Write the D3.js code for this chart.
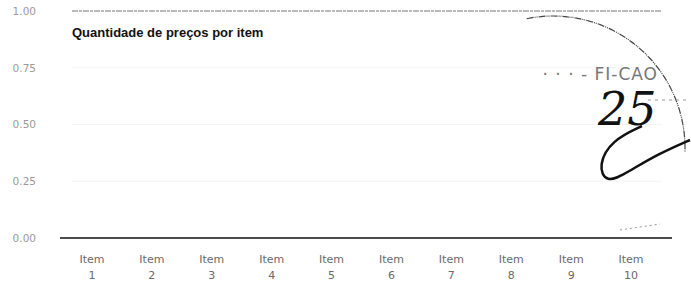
<!DOCTYPE html>
<html>
<head>
<meta charset="utf-8">
<script src="https://cdn.jsdelivr.net/npm/d3@7"></script>
<style>
  body { margin: 0; background: #fff; }
  svg { display: block; }
</style>
</head>
<body>
<svg id="chart" width="691" height="289"></svg>
<script>
const categories = ["Item 1","Item 2","Item 3","Item 4","Item 5","Item 6","Item 7","Item 8","Item 9","Item 10"];
const values = [0,0,0,0,0,0,0,0,0,0];
const yTicks = [0, 0.25, 0.5, 0.75, 1];
const title = "Quantidade de preços por item";

const svg = d3.select("#chart");
const margin = {left: 60, right: 29, top: 11, bottom: 51};
const W = 691, H = 289;

const x = d3.scaleBand().domain(categories).range([62, W - 30]).paddingInner(0.2).paddingOuter(0.1);
const y = d3.scaleLinear().domain([0, 1]).range([H - margin.bottom, margin.top]);

// gridlines
svg.append("g").selectAll("line").data(yTicks.filter(d => d > 0)).join("line")
  .attr("x1", margin.left + 12).attr("x2", W - margin.right)
  .attr("y1", d => y(d)).attr("y2", d => y(d))
  .attr("stroke", d => d === 1 ? "#777" : "#f4f4f4")
  .attr("stroke-width", 1)
  .attr("stroke-dasharray", d => d === 1 ? "6,1,3,1" : null);

// y axis labels
const yAxis = d3.axisLeft(y).tickValues(yTicks).tickFormat(d3.format(".2f")).tickSize(0).tickPadding(0);
const gy = svg.append("g").attr("transform", "translate(36,0)").call(yAxis);
gy.select(".domain").remove();
gy.selectAll("text").attr("fill", "#9a9a9a").attr("font-family", "DejaVu Sans, sans-serif").attr("font-size", 10.5);

// bars (all zero)
svg.append("g").selectAll("rect").data(values).join("rect")
  .attr("x", (d, i) => x(categories[i]))
  .attr("width", x.bandwidth())
  .attr("y", d => y(d))
  .attr("height", d => y(0) - y(d))
  .attr("fill", "#333");

// baseline
svg.append("line")
  .attr("x1", margin.left).attr("x2", W - margin.right + 10)
  .attr("y1", y(0)).attr("y2", y(0))
  .attr("stroke", "#111").attr("stroke-width", 1.3);

// x axis labels
const xAxis = d3.axisBottom(x).tickSize(0).tickPadding(0);
const gx = svg.append("g").attr("transform", `translate(0,${y(0)})`).call(xAxis);
gx.select(".domain").remove();
gx.selectAll("text").each(function(d) {
  const parts = d.split(" ");
  const t = d3.select(this).text(null)
    .attr("fill", "#6a6a6a").attr("font-family", "DejaVu Sans, sans-serif").attr("font-size", 11)
    .attr("dy", null).attr("y", 0);
  t.append("tspan").attr("x", 0).attr("y", 25).text(parts[0]);
  t.append("tspan").attr("x", 0).attr("y", 41).text(parts[1]);
});

// title
svg.append("text").attr("x", 72).attr("y", 37)
  .attr("font-family", "Liberation Sans, Arial, sans-serif")
  .attr("font-weight", "bold").attr("font-size", 13).attr("fill", "#111")
  .text(title);

// scanned stamp / signature overlay (decorative)
const stamp = svg.append("g");
const arc = d3.arc().innerRadius(132).outerRadius(132).startAngle(-0.2).endAngle(1.6);
stamp.append("path").attr("d", arc()).attr("transform", "translate(553,148)")
  .attr("fill", "none").attr("stroke", "#444").attr("stroke-width", 1.2).attr("stroke-dasharray", "5,3,1,3");
stamp.append("text").attr("x", 658).attr("y", 80).attr("text-anchor", "end").attr("font-family", "DejaVu Sans, sans-serif")
  .attr("font-size", 17).attr("fill", "#777").attr("letter-spacing", 1).text("· ·  · -  FI-CAO");
stamp.append("text").attr("x", 598).attr("y", 125).attr("font-family", "DejaVu Serif, serif")
  .attr("font-style", "italic").attr("font-size", 46).attr("fill", "#111").text("25");
stamp.append("path")
  .attr("d", d3.line().curve(d3.curveBasis)([[642,126],[612,140],[598,165],[606,184],[628,172],[658,154],[690,140]]))
  .attr("fill", "none").attr("stroke", "#111").attr("stroke-width", 2.5);
stamp.append("line").attr("x1", 648).attr("x2", 690).attr("y1", 100).attr("y2", 100)
  .attr("stroke", "#999").attr("stroke-dasharray", "3,4");
stamp.append("line").attr("x1", 620).attr("x2", 660).attr("y1", 230).attr("y2", 224)
  .attr("stroke", "#999").attr("stroke-dasharray", "2,3");
</script>
</body>
</html>
